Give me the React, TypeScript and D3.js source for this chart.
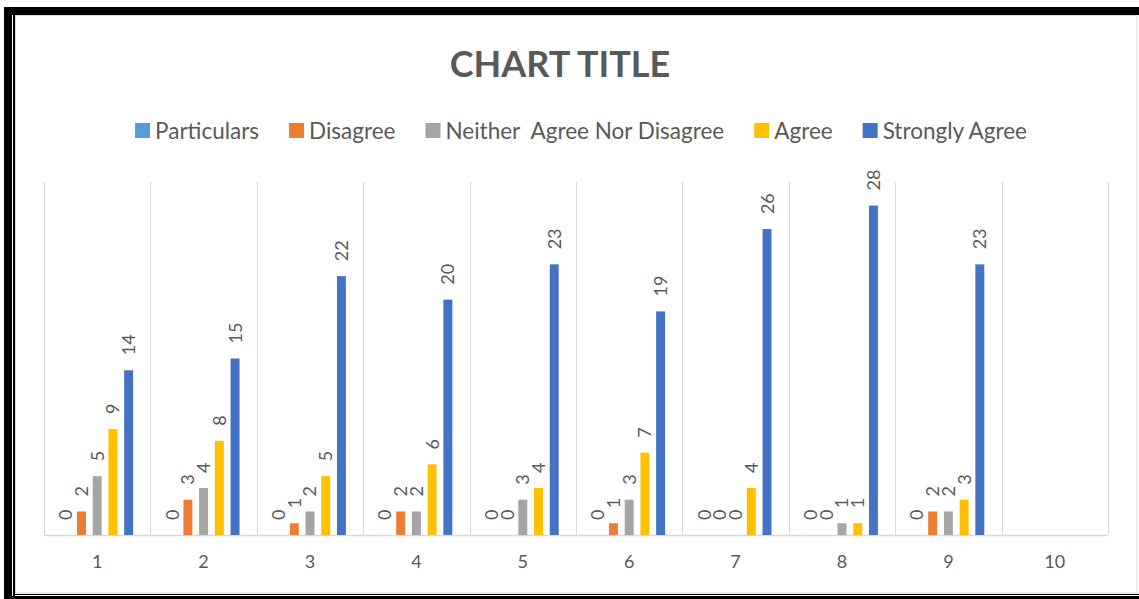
import { useEffect, useRef } from "react";
import * as d3 from "d3";

const categories = ["1", "2", "3", "4", "5", "6", "7", "8", "9", "10"];
const seriesNames = [
  "Particulars",
  "Disagree",
  "Neither  Agree Nor Disagree",
  "Agree",
  "Strongly Agree",
];
const seriesColors = ["#5B9BD5", "#ED7D31", "#A5A5A5", "#FFC000", "#4472C4"];

// values per category, null = empty
const particulars = [0, 0, 0, 0, 0, 0, 0, 0, 0, null];
const disagree = [2, 3, 1, 2, 0, 1, 0, 0, 2, null];
const neither = [5, 4, 2, 2, 3, 3, 0, 1, 2, null];
const agree = [9, 8, 5, 6, 4, 7, 4, 1, 3, null];
const stronglyAgree = [14, 15, 22, 20, 23, 19, 26, 28, 23, null];

const seriesValues = [particulars, disagree, neither, agree, stronglyAgree];

const W = 1139;
const H = 599;
const FONT = "Lato, 'Open Sans', sans-serif";
const TEXT = "#595959";
const GRID = "#D9D9D9";

export default function App() {
  const svgRef = useRef<SVGSVGElement | null>(null);

  useEffect(() => {
    const svg = d3.select(svgRef.current);
    svg.selectAll("*").remove();

    // frame
    svg.append("rect").attr("width", W).attr("height", H).attr("fill", "#fff");
    svg.append("rect").attr("x", 4).attr("y", 7).attr("width", W - 4).attr("height", 8).attr("fill", "#000");
    svg.append("rect").attr("x", 4).attr("y", 7).attr("width", 8).attr("height", H - 7).attr("fill", "#000");
    svg.append("rect").attr("x", 13).attr("y", 15).attr("width", 2).attr("height", H - 15).attr("fill", "#000");
    svg.append("rect").attr("x", 13).attr("y", 594).attr("width", W - 13).attr("height", 1).attr("fill", "#000");
    svg.append("rect").attr("x", 12).attr("y", 596).attr("width", W - 12).attr("height", 3).attr("fill", "#000");
    svg
      .append("rect")
      .attr("x", 15.5)
      .attr("y", 15.5)
      .attr("width", 1121.5)
      .attr("height", 577.5)
      .attr("fill", "none")
      .attr("stroke", GRID);

    // scales
    const x0 = d3.scaleBand().domain(categories).range([44, 1108]).padding(0);
    const x1 = d3
      .scaleBand()
      .domain(seriesNames)
      .range([0, x0.bandwidth()])
      .paddingInner(0.43)
      .paddingOuter(1.1);
    const y = d3.scaleLinear().domain([0, 30]).range([535, 182]);

    // vertical gridlines between categories
    const edges = [...categories.map((c) => x0(c)!), 1108];
    svg
      .append("g")
      .selectAll("line")
      .data(edges)
      .join("line")
      .attr("x1", (d) => Math.round(d) + 0.5)
      .attr("x2", (d) => Math.round(d) + 0.5)
      .attr("y1", y(30))
      .attr("y2", y(0))
      .attr("stroke", GRID)
      .attr("stroke-width", 1);

    // baseline
    svg
      .append("line")
      .attr("x1", 44)
      .attr("x2", 1108)
      .attr("y1", y(0) + 0.5)
      .attr("y2", y(0) + 0.5)
      .attr("stroke", GRID)
      .attr("stroke-width", 1.5);

    // bars + labels
    seriesNames.forEach((name, si) => {
      const pts = categories
        .map((c, i) => ({ c, v: seriesValues[si][i] }))
        .filter((d) => d.v !== null) as { c: string; v: number }[];
      const g = svg.append("g");
      g.selectAll("rect")
        .data(pts)
        .join("rect")
        .attr("x", (d) => x0(d.c)! + x1(name)!)
        .attr("y", (d) => y(d.v))
        .attr("width", x1.bandwidth())
        .attr("height", (d) => y(0) - y(d.v))
        .attr("fill", seriesColors[si]);
      g.selectAll("text")
        .data(pts)
        .join("text")
        .attr(
          "transform",
          (d) =>
            `translate(${x0(d.c)! + x1(name)! + x1.bandwidth() / 2},${y(d.v) - 15}) rotate(-90)`
        )
        .attr("dy", "0.36em")
        .attr("text-anchor", "start")
        .attr("font-family", FONT)
        .attr("font-size", 18)
        .attr("fill", TEXT)
        .text((d) => String(d.v));
    });

    // x axis labels
    svg
      .append("g")
      .selectAll("text")
      .data(categories)
      .join("text")
      .attr("x", (d) => x0(d)! + x0.bandwidth() / 2)
      .attr("y", 568)
      .attr("text-anchor", "middle")
      .attr("font-family", FONT)
      .attr("font-size", 18)
      .attr("fill", TEXT)
      .text((d) => d);

    // title
    svg
      .append("text")
      .attr("x", 560)
      .attr("y", 77)
      .attr("text-anchor", "middle")
      .attr("font-family", FONT)
      .attr("font-weight", "bold")
      .attr("font-size", 36)
      .attr("fill", TEXT)
      .text("CHART TITLE");

    // legend
    const legend = svg.append("g");
    const items = seriesNames.map((name, i) => {
      const g = legend.append("g");
      g.append("rect")
        .attr("y", 123)
        .attr("width", 15)
        .attr("height", 15)
        .attr("fill", seriesColors[i]);
      const t = g
        .append("text")
        .attr("x", 20)
        .attr("y", 138.5)
        .attr("font-family", FONT)
        .attr("font-size", 22.5)
        .attr("fill", TEXT)
        .style("white-space", "pre")
        .text(name);
      const w = (t.node() as SVGTextElement).getComputedTextLength();
      return { g, w: 20 + w };
    });
    const gap = 30;
    const total = d3.sum(items, (d) => d.w) + gap * (items.length - 1);
    let cx = 581 - total / 2;
    items.forEach((it) => {
      it.g.attr("transform", `translate(${cx},0)`);
      cx += it.w + gap;
    });
  }, []);

  return (
    <svg
      ref={svgRef}
      width={W}
      height={H}
      style={{ position: "absolute", left: 0, top: 0, display: "block" }}
    />
  );
}
